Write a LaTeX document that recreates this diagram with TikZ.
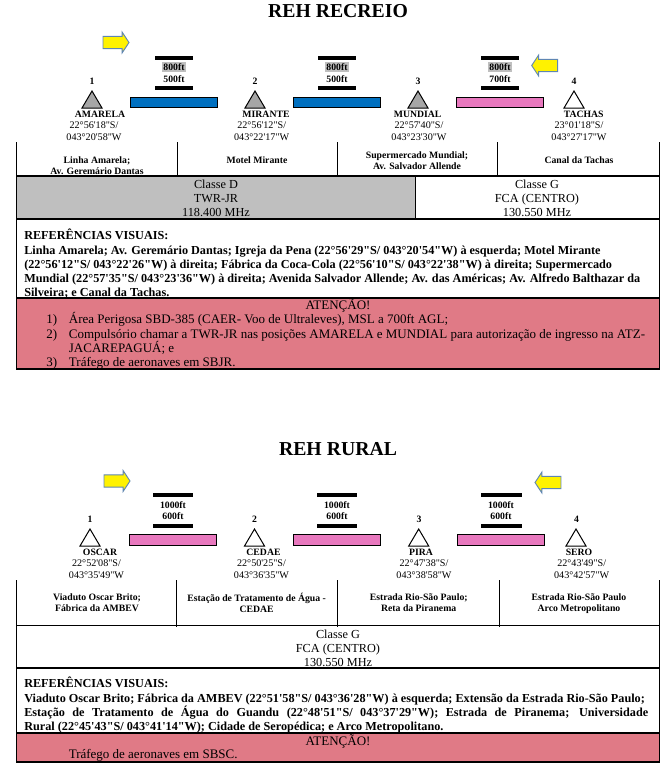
\documentclass[tikz,border=0pt]{standalone}
\usepackage{xcolor}
\usepackage{fontspec}
\newfontfamily\reffont{Liberation Serif}
\definecolor{cBlue}{HTML}{0070C0}
\definecolor{cPink}{HTML}{E878BE}
\definecolor{cAlert}{HTML}{E07A86}
\definecolor{cClass}{HTML}{BFBFBF}
\definecolor{cFix}{HTML}{A6A6A6}
\definecolor{cArrow}{HTML}{5F86B3}
\usetikzlibrary{positioning,shapes.arrows}
\tikzset{
  txt-title/.style={font=\reffont\bfseries\fontsize{14.8}{18}\selectfont},
  txt-num/.style={font=\reffont\bfseries\fontsize{7.3}{9}\selectfont},
  txt-fix/.style={font=\reffont\bfseries\fontsize{7.3}{9}\selectfont,text height=5pt,text depth=0pt,inner sep=0pt},
  txt-coord/.style={font=\reffont\fontsize{7.6}{9}\selectfont,align=center,inner sep=0pt},
  txt-cell/.style={font=\reffont\bfseries\fontsize{7.3}{8.3}\selectfont,align=center,inner sep=0pt},
  txt-alt/.style={font=\reffont\bfseries\fontsize{7.3}{9}\selectfont,inner sep=1pt,text height=5pt,text depth=0pt},
  txt-alt-gray/.style={txt-alt,fill=cClass},
  txt-class/.style={font=\reffont\fontsize{9.2}{10.4}\selectfont,align=center,inner sep=0pt},
  txt-alert/.style={font=\reffont\fontsize{9.75}{10.7}\selectfont,inner sep=0pt},
  txt-body/.style={font=\reffont\bfseries\fontsize{9.16}{10.6}\selectfont,align=left,inner sep=0pt,anchor=north west},
  txt-list/.style={txt-alert,align=left,anchor=north west},
  yellow-r/.style={single arrow,draw=cArrow,fill=yellow,line width=.7pt,minimum height=19.5pt,
    text width=0pt,text height=8.4pt,text depth=0pt,inner sep=0pt,single arrow head extend=3.2pt,
    single arrow head indent=0pt,single arrow tip angle=113},
  yellow-l/.style={yellow-r,shape border rotate=180},
  alt-bar/.style={fill=black},
  leg-blue/.style={draw=black,line width=.75pt,fill=cBlue},
  leg-pink/.style={draw=black,line width=.75pt,fill=cPink},
  fix-gray/.style={draw=black,line width=.75pt,fill=cFix},
  fix-open/.style={draw=black,line width=.75pt,fill=white},
  rule/.style={draw=black,line width=.8pt},
}
\begin{document}
\begin{tikzpicture}[x=0.75pt,y=-0.75pt]
  \useasboundingbox (0,0) rectangle (672,783);
  % REH RECREIO
  \node[txt-title] (title-recreio) at (338,11) {REH RECREIO};
  \node[yellow-r] (arrow-r1) at (114,42.5) {};
  \node[yellow-l] (arrow-l1) at (546.7,65.5) {};

  \fill[cClass] (16.5,176) rectangle (415.5,219);
  \fill[cAlert] (16.5,298) rectangle (659.5,369);
  \draw[rule] (16.5,142) -- (16.5,369) -- (659.5,369) -- (659.5,142);
  \draw[rule] (16.5,176) -- (659.5,176);
  \draw[rule] (16.5,219) -- (659.5,219);
  \draw[rule] (16.5,298) -- (659.5,298);
  \draw[rule] (177.5,142) -- (177.5,177);
  \draw[rule] (337.5,142) -- (337.5,177);
  \draw[rule] (497.5,142) -- (497.5,177);
  \draw[rule] (415.5,176) -- (415.5,219);

  \fill[alt-bar] (155,56) rectangle (193,60);
  \fill[alt-bar] (155,86) rectangle (193,90);
  \fill[alt-bar] (318,56) rectangle (356,60);
  \fill[alt-bar] (318,86) rectangle (356,90);
  \fill[alt-bar] (481,56) rectangle (519,60);
  \fill[alt-bar] (481,86) rectangle (519,90);
  \node[txt-alt-gray] (alt-a1) at (174,67) {800ft};
  \node[txt-alt] (alt-a2) at (174,79) {500ft};
  \node[txt-alt-gray] (alt-b1) at (337,67) {800ft};
  \node[txt-alt] (alt-b2) at (337,79) {500ft};
  \node[txt-alt-gray] (alt-c1) at (500,67) {800ft};
  \node[txt-alt] (alt-c2) at (500,79) {700ft};
  \draw[leg-blue] (130,97) rectangle (217.5,107.5);
  \draw[leg-blue] (293,97) rectangle (380.5,107.5);
  \draw[leg-pink] (456.5,97) rectangle (543.5,107.5);

  \draw[fix-gray] (92,91) -- (82,108) -- (102,108) -- cycle;
  \draw[fix-gray] (255,91) -- (245,108) -- (265,108) -- cycle;
  \draw[fix-gray] (418,91) -- (408,108) -- (428,108) -- cycle;
  \draw[fix-open] (574,91) -- (564,108) -- (584,108) -- cycle;
  \node[txt-num] (num-a) at (92,81) {1};
  \node[txt-num] (num-b) at (255,81) {2};
  \node[txt-num] (num-c) at (418,81) {3};
  \node[txt-num] (num-d) at (574,81) {4};
  \node[txt-fix] (fix-amarela) at (100,114) {AMARELA};
  \node[txt-fix] (fix-mirante) at (266,114) {MIRANTE};
  \node[txt-fix] (fix-mundial) at (417.7,114) {MUNDIAL};
  \node[txt-fix] (fix-tachas) at (583.7,114) {TACHAS};
  \node[txt-coord] (pos-amarela) at (94,131) {22°56'18"S/\\043°20'58"W};
  \node[txt-coord] (pos-mirante) at (261.7,131) {22°56'12"S/\\043°22'17"W};
  \node[txt-coord] (pos-mundial) at (419,131) {22°57'40"S/\\043°23'30"W};
  \node[txt-coord] (pos-tachas) at (579,131) {23°01'18"S/\\043°27'17"W};
  \node[txt-cell] (cell-a) at (97,165.5) {Linha Amarela;\\Av. Geremário Dantas};
  \node[txt-cell] (cell-b) at (257,160) {Motel Mirante};
  \node[txt-cell] (cell-c) at (417,160.5) {Supermercado Mundial;\\Av. Salvador Allende};
  \node[txt-cell] (cell-d) at (579,160) {Canal da Tachas};
  \node[txt-class] (class-d) at (216,198.5) {Classe D\\TWR-JR\\118.400 MHz};
  \node[txt-class] (class-g) at (537,198.5) {Classe G\\FCA (CENTRO)\\130.550 MHz};

  \node[txt-body] (ref-recreio) at (24,229) {REFERÊNCIAS VISUAIS:\\
    Linha Amarela; Av. Geremário Dantas; Igreja da Pena (22°56'29"S/ 043°20'54"W) à esquerda; Motel Mirante\\
    (22°56'12"S/ 043°22'26"W) à direita; Fábrica da Coca-Cola (22°56'10"S/ 043°22'38"W) à direita; Supermercado\\
    Mundial (22°57'35"S/ 043°23'36"W) à direita; Avenida Salvador Allende; Av. das Américas; Av. Alfredo Balthazar da\\
    Silveira; e Canal da Tachas.};
  \node[txt-alert] (alert-recreio) at (338,305) {ATENÇÃO!};
  \node[txt-list] (list-recreio) at (46,312.5) {\makebox[17pt][l]{1)}Área Perigosa SBD-385 (CAER- Voo de Ultraleves), MSL a 700ft AGL;\\
    \makebox[17pt][l]{2)}Compulsório chamar a TWR-JR nas posições AMARELA e MUNDIAL para autorização de ingresso na ATZ-\\
    \makebox[17pt][l]{}JACAREPAGUÁ; e\\
    \makebox[17pt][l]{3)}Tráfego de aeronaves em SBJR.};

  % REH RURAL
  \node[txt-title] (title-rural) at (338,449) {REH RURAL};
  \node[yellow-r] (arrow-r2) at (115,481) {};
  \node[yellow-l] (arrow-l2) at (550,482.5) {};

  \fill[cAlert] (16.5,733) rectangle (659.5,762);
  \draw[rule] (16.5,580) -- (16.5,762) -- (659.5,762) -- (659.5,580);
  \draw[rule] (16.5,625.5) -- (659.5,625.5);
  \draw[rule] (16.5,668) -- (659.5,668);
  \draw[rule] (16.5,733) -- (659.5,733);
  \draw[rule] (176.5,580) -- (176.5,626.5);
  \draw[rule] (337.5,580) -- (337.5,626.5);
  \draw[rule] (499.5,580) -- (499.5,626.5);

  \fill[alt-bar] (153,493) rectangle (193,497);
  \fill[alt-bar] (153,524) rectangle (193,528);
  \fill[alt-bar] (317,493) rectangle (357,497);
  \fill[alt-bar] (317,524) rectangle (357,528);
  \fill[alt-bar] (481,493) rectangle (522,497);
  \fill[alt-bar] (481,524) rectangle (522,528);
  \node[txt-alt] (alt-d1) at (173,505.5) {1000ft};
  \node[txt-alt] (alt-d2) at (173,516.5) {600ft};
  \node[txt-alt] (alt-e1) at (337,505.5) {1000ft};
  \node[txt-alt] (alt-e2) at (337,516.5) {600ft};
  \node[txt-alt] (alt-f1) at (501,505.5) {1000ft};
  \node[txt-alt] (alt-f2) at (501,516.5) {600ft};
  \draw[leg-pink] (129.5,534) rectangle (216.5,545.5);
  \draw[leg-pink] (293.5,534) rectangle (380.5,545.5);
  \draw[leg-pink] (457.5,534) rectangle (544.5,545.5);

  \draw[fix-open] (90,529) -- (80,546) -- (100,546) -- cycle;
  \draw[fix-open] (254.5,529) -- (244.5,546) -- (264.5,546) -- cycle;
  \draw[fix-open] (418.7,529) -- (408.7,546) -- (428.7,546) -- cycle;
  \draw[fix-open] (576,529) -- (566,546) -- (586,546) -- cycle;
  \node[txt-num] (num-e) at (90,519) {1};
  \node[txt-num] (num-f) at (254.5,519) {2};
  \node[txt-num] (num-g) at (419,519) {3};
  \node[txt-num] (num-h) at (576.5,519) {4};
  \node[txt-fix] (fix-oscar) at (100,552) {OSCAR};
  \node[txt-fix] (fix-cedae) at (263.5,552) {CEDAE};
  \node[txt-fix] (fix-pira) at (421,552) {PIRA};
  \node[txt-fix] (fix-sero) at (579,552) {SERO};
  \node[txt-coord] (pos-oscar) at (96.5,569) {22°52'08"S/\\043°35'49"W};
  \node[txt-coord] (pos-cedae) at (261.5,569) {22°50'25"S/\\043°36'35"W};
  \node[txt-coord] (pos-pira) at (424,569) {22°47'38"S/\\043°38'58"W};
  \node[txt-coord] (pos-sero) at (581.7,569) {22°43'49"S/\\043°42'57"W};
  \node[txt-cell] (cell-e) at (97,603) {Viaduto Oscar Brito;\\Fábrica da AMBEV};
  \node[txt-cell] (cell-f) at (256.7,603) {Estação de Tratamento de Água -\\CEDAE};
  \node[txt-cell] (cell-g) at (418.7,603) {Estrada Rio-São Paulo;\\Reta da Piranema};
  \node[txt-cell] (cell-h) at (579,604) {Estrada Rio-São Paulo\\Arco Metropolitano};
  \node[txt-class] (class-g2) at (338,648) {Classe G\\FCA (CENTRO)\\130.550 MHz};

  \node[txt-body] (ref-rural) at (24,677) {REFERÊNCIAS VISUAIS:\\
    Viaduto Oscar Brito; Fábrica da AMBEV (22°51'58"S/ 043°36'28"W) à esquerda; Extensão da Estrada Rio-São Paulo;\\
    \makebox[468pt][s]{Estação de Tratamento de Água do Guandu (22°48'51"S/ 043°37'29"W); Estrada de Piranema; Universidade}\\
    Rural (22°45'43"S/ 043°41'14"W); Cidade de Seropédica; e Arco Metropolitano.};
  \node[txt-alert] (alert-rural) at (338,741) {ATENÇÃO!};
  \node[txt-list] (list-rural) at (68.5,749) {Tráfego de aeronaves em SBSC.};
\end{tikzpicture}
\end{document}
